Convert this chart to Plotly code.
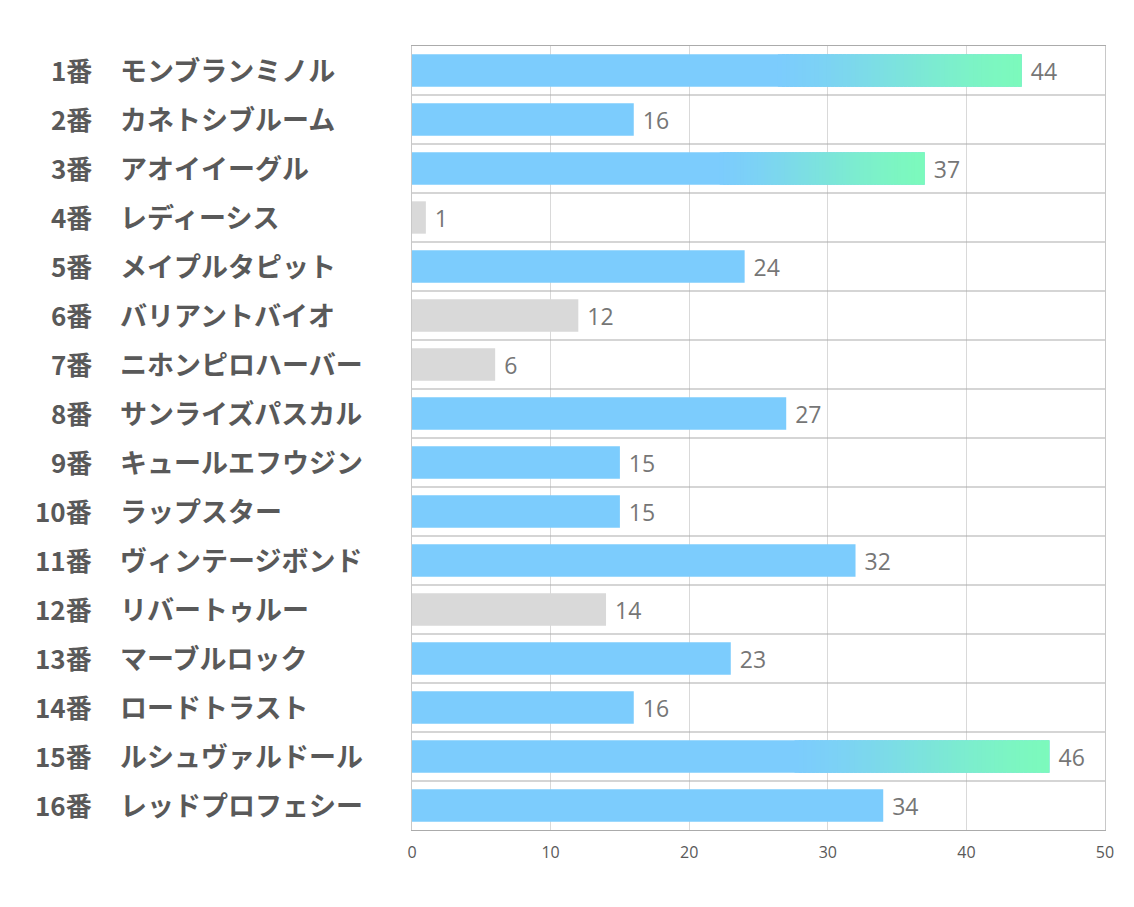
import plotly.graph_objects as go

numbers = ["1番", "2番", "3番", "4番", "5番", "6番", "7番", "8番",
           "9番", "10番", "11番", "12番", "13番", "14番", "15番", "16番"]
names = ["モンブランミノル", "カネトシブルーム", "アオイイーグル", "レディーシス",
         "メイプルタピット", "バリアントバイオ", "ニホンピロハーバー", "サンライズパスカル",
         "キュールエフウジン", "ラップスター", "ヴィンテージボンド", "リバートゥルー",
         "マーブルロック", "ロードトラスト", "ルシュヴァルドール", "レッドプロフェシー"]
values = [44, 16, 37, 1, 24, 12, 6, 27, 15, 15, 32, 14, 23, 16, 46, 34]
# "blue" = normal, "grey" = muted, "grad" = gradient highlight
status = ["grad", "blue", "grad", "grey", "blue", "grey", "grey", "blue",
          "blue", "blue", "blue", "grey", "blue", "blue", "grad", "blue"]
x_ticks = [0, 10, 20, 30, 40, 50]

BLUE = (124, 204, 253)
GREEN = (124, 250, 188)
GREY = "#d9d9d9"

cats = list(range(len(values)))
colors = ["rgb(%d,%d,%d)" % BLUE if s != "grey" else GREY for s in status]

fig = go.Figure()
fig.add_trace(go.Bar(
    y=cats, x=values, orientation="h", width=0.66,
    marker=dict(color=colors, line=dict(width=0)),
    text=[" " + str(v) for v in values], textposition="outside",
    textfont=dict(family="Open Sans, Noto Sans CJK JP", size=23, color="#767676"),
    cliponaxis=False, hoverinfo="skip", showlegend=False,
))

# gradient overlay segments
N = 60
g0 = 0.6
seg_y, seg_x, seg_base, seg_col = [], [], [], []
for i, (v, s) in enumerate(zip(values, status)):
    if s != "grad":
        continue
    start = v * g0
    span = v - start
    w = span / N
    for k in range(N):
        t = (k + 0.5) / N
        t = t * t * (3 - 2 * t) * 0.5 + t * 0.5
        c = tuple(int(round(BLUE[j] + (GREEN[j] - BLUE[j]) * t)) for j in range(3))
        seg_y.append(i)
        seg_base.append(start + k * w)
        seg_x.append(min(w * 1.8, v - (start + k * w)))
        seg_col.append("rgb(%d,%d,%d)" % c)
fig.add_trace(go.Bar(
    y=seg_y, x=seg_x, base=seg_base, orientation="h", width=0.66,
    marker=dict(color=seg_col, line=dict(width=0)),
    hoverinfo="skip", showlegend=False,
))

# row separators
for i in range(len(values) - 1):
    fig.add_shape(type="line", xref="paper", yref="y", x0=0, x1=1,
                  y0=i + 0.5, y1=i + 0.5, line=dict(color="#ababab", width=1.2), layer="above")

# left labels
px_w = 1105 - 412
num_font = dict(family="Noto Sans CJK JP", size=26, color="#595959", weight="bold")
name_font = dict(family="Noto Sans CJK JP", size=27, color="#595959", weight="bold")
for i, (n, nm) in enumerate(zip(numbers, names)):
    fig.add_annotation(x=(94 - 412) / px_w, y=i, xref="paper", yref="y", text=n,
                       showarrow=False, xanchor="right", yshift=1, font=num_font)
    fig.add_annotation(x=(118 - 412) / px_w, y=i, xref="paper", yref="y", text=nm,
                       showarrow=False, xanchor="left", yshift=1, font=name_font)

fig.update_layout(
    width=1134, height=907,
    margin=dict(l=412, r=29, t=46, b=77),
    paper_bgcolor="white", plot_bgcolor="white",
    barmode="overlay", bargap=0.34,
    xaxis=dict(range=[0, 50], tickvals=x_ticks, showgrid=True, gridcolor="#d9d9d9",
               gridwidth=1, zeroline=False, showline=True, mirror=True,
               linecolor="#ababab", linewidth=1.2,
               tickfont=dict(family="Open Sans", size=16, color="#595959"),
               ticklabelstandoff=8, fixedrange=True),
    yaxis=dict(range=[len(values) - 0.5, -0.5], showticklabels=False, showgrid=False,
               zeroline=False, showline=True, mirror=True, linecolor="#c8c8c8",
               linewidth=1, fixedrange=True),
)

fig.write_html("out.html")
